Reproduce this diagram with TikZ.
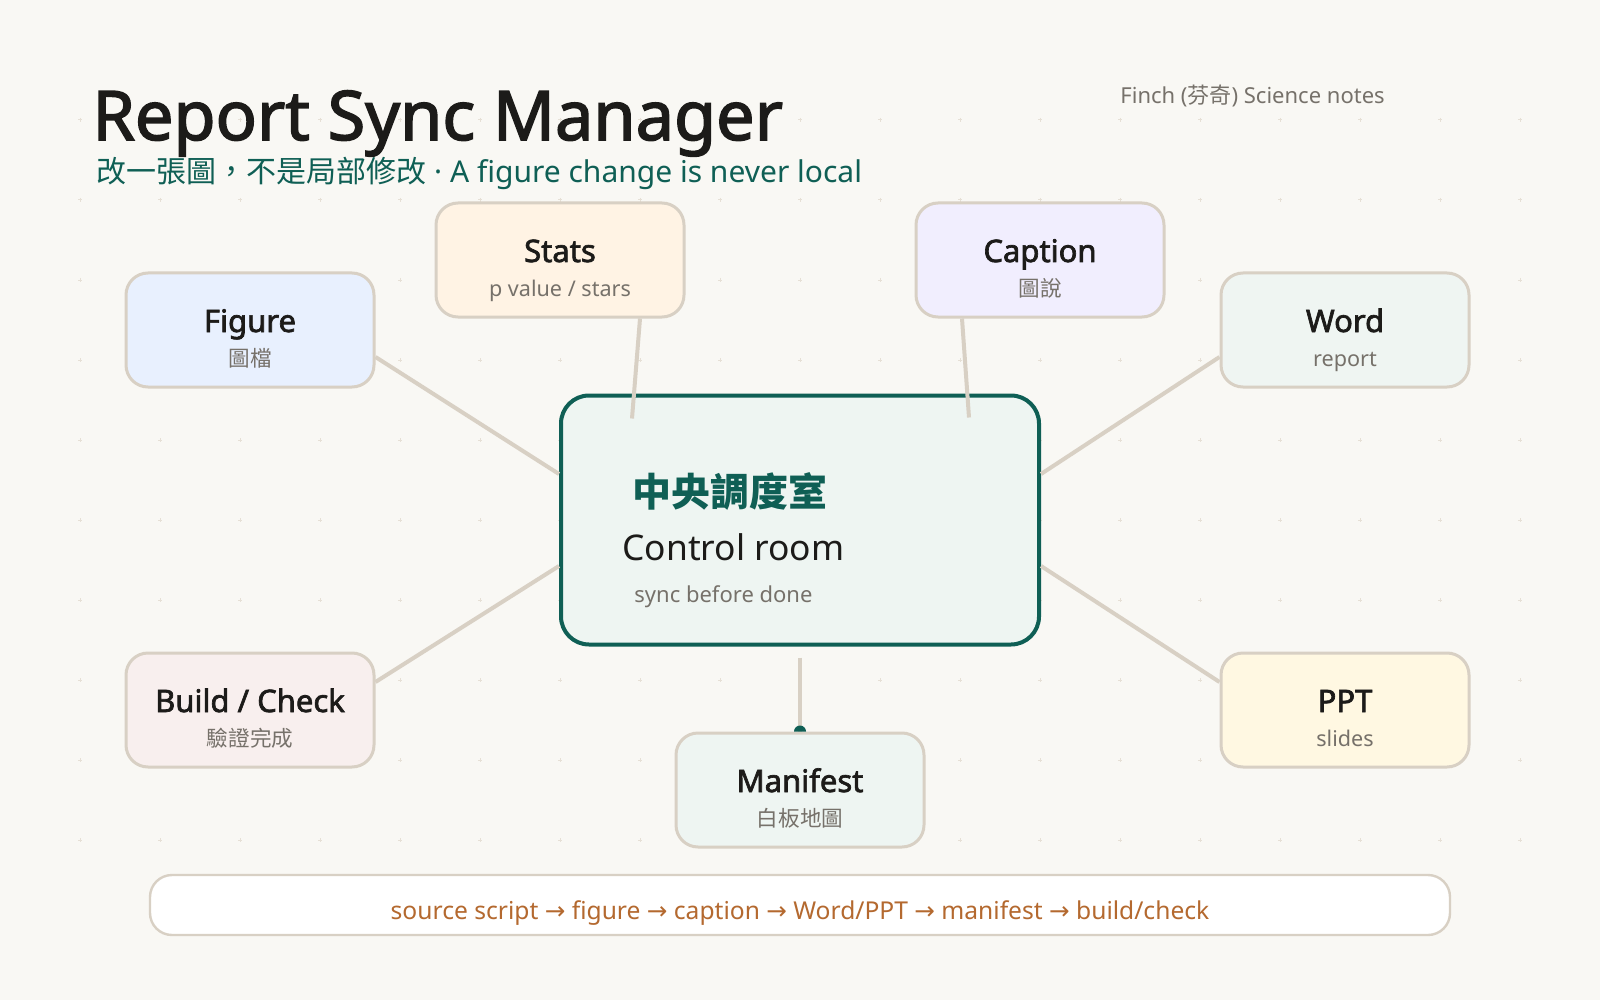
\documentclass[tikz,border=0pt]{standalone}
\usepackage{fontspec}
\setmainfont{Noto Sans}
\newfontfamily\heavy{Noto Sans}[FakeBold=2.2]
\newfontfamily\cjk{Noto Sans CJK TC}
\newfontfamily\symfont{DejaVu Sans}
\usetikzlibrary{calc}

\definecolor{paper}{HTML}{F9F8F4}
\definecolor{gridtone}{HTML}{E6E0D6}
\definecolor{linkline}{HTML}{D8D0C4}
\definecolor{teal}{HTML}{0F5F55}
\definecolor{ink}{HTML}{1C1B19}
\definecolor{muted}{HTML}{76716A}
\definecolor{flowtone}{HTML}{B4692F}
\definecolor{figfill}{HTML}{E8F0FE}
\definecolor{statsfill}{HTML}{FFF3E4}
\definecolor{capfill}{HTML}{F1EEFE}
\definecolor{wordfill}{HTML}{EFF5F2}
\definecolor{buildfill}{HTML}{F8EFEE}
\definecolor{pptfill}{HTML}{FFF8E2}
\definecolor{hubfill}{HTML}{EEF5F2}

\begin{document}
\begin{tikzpicture}[x=0.5pt, y=-0.5pt,
                  card/.style = {draw=linkline, line width=1.5pt, rounded corners=11pt,
                                 minimum width=124pt, minimum height=57pt, inner sep=0pt},
                  cardtitle/.style = {anchor=base, inner sep=0pt, text=ink,
                                      font=\heavy\fontsize{15.5}{18}\selectfont},
                  cardsub/.style = {anchor=base, inner sep=0pt, text=muted,
                                    font=\fontsize{10.8}{13}\selectfont},
                  hub/.style = {draw=teal, line width=2pt, fill=hubfill, rounded corners=14pt,
                                minimum width=239pt, minimum height=124.5pt, inner sep=0pt},
                  bar/.style = {draw=linkline, line width=1.2pt, fill=white, rounded corners=11pt,
                                minimum width=650pt, minimum height=30pt},
                  link/.style = {draw=linkline, line width=2pt},
                  gridmark/.style = {draw=gridtone, line width=0.5pt}
                  ]
\fill[paper] (0,0) rectangle (1600,1000);
\useasboundingbox (0,0) rectangle (1600,1000);
\foreach \x in {80,160,...,1520}
  \foreach \y in {120,200,...,840}
    \draw[gridmark] (\x-2,\y) -- (\x+2,\y) (\x,\y-2) -- (\x,\y+2);
% header
\node (title) [anchor=base west, inner sep=0pt, text=ink,
       font=\heavy\fontsize{34.2}{40}\selectfont] at (92,140) {Report Sync Manager};
\node (subtitle) [anchor=base west, inner sep=0pt, text=teal,
       font=\fontsize{15}{18}\selectfont] at (96,183)
      {{\cjk 改一張圖，不是局部修改} · A figure change is never local};
\node (brand) [anchor=base west, inner sep=0pt, text=muted,
       font=\fontsize{11}{13}\selectfont] at (1120,104) {Finch ({\cjk 芬奇}) Science notes};
% control room
\node (hub) [hub] at (800,520) {};
\node (hubzh) [anchor=base west, inner sep=0pt, text=teal,
       font=\cjk\bfseries\fontsize{19.5}{22}\selectfont] at (632,506) {中央調度室};
\node (huben) [anchor=base west, inner sep=0pt, text=ink,
       font=\fontsize{17.7}{21}\selectfont] at (622,560) {Control room};
\node (hubnote) [anchor=base west, inner sep=0pt, text=muted,
       font=\fontsize{11}{14}\selectfont] at (634,602) {sync before done};
% cards
\foreach \n/\p/\c/\t/\s in {fig/{250,330}/figfill/Figure/{\cjk 圖檔},
                            stats/{560,260}/statsfill/Stats/{p value / stars},
                            caption/{1040,260}/capfill/Caption/{\cjk 圖說},
                            word/{1345,330}/wordfill/Word/report,
                            build/{250,710}/buildfill/{Build / Check}/{\cjk 驗證完成},
                            ppt/{1345,710}/pptfill/PPT/slides,
                            man/{800,790}/hubfill/Manifest/{\cjk 白板地圖}}
  {
  \node (\n) [card, fill=\c] at (\p) {};
  \node [cardtitle] at ($(\n.center)+(0,2)$) {\t};
  \node [cardsub] at ($(\n.center)+(0,36)$) {\s};
  }
% links
\draw[link] ($(fig.east)+(0,27)$) -- ($(hub.west)+(0,-46)$);
\draw[link] ($(word.west)+(0,27)$) -- ($(hub.east)+(0,-46)$);
\draw[link] ($(build.east)+(0,-28)$) -- ($(hub.west)+(0,46)$);
\draw[link] ($(ppt.west)+(0,-28)$) -- ($(hub.east)+(0,46)$);
\draw[link] ($(stats.south)+(80,0)$) -- ($(hub.north)+(-168,25)$);
\draw[link] ($(caption.south)+(-78,0)$) -- ($(hub.north)+(169,24)$);
\draw[link] ($(hub.south)+(0,11)$) -- (man.north);
\fill[teal] ($(man.north)+(-6,0)$) arc[start angle=180, end angle=360, radius=6] -- cycle;
% pipeline
\node (flow) [bar] at (800,905) {};
\node (flowtext) [anchor=base, inner sep=0pt, text=flowtone,
       font=\fontsize{12.3}{14}\selectfont] at (800,919)
      {source script {\symfont →} figure {\symfont →} caption {\symfont →} Word/PPT
       {\symfont →} manifest {\symfont →} build/check};
\end{tikzpicture}
\end{document}
